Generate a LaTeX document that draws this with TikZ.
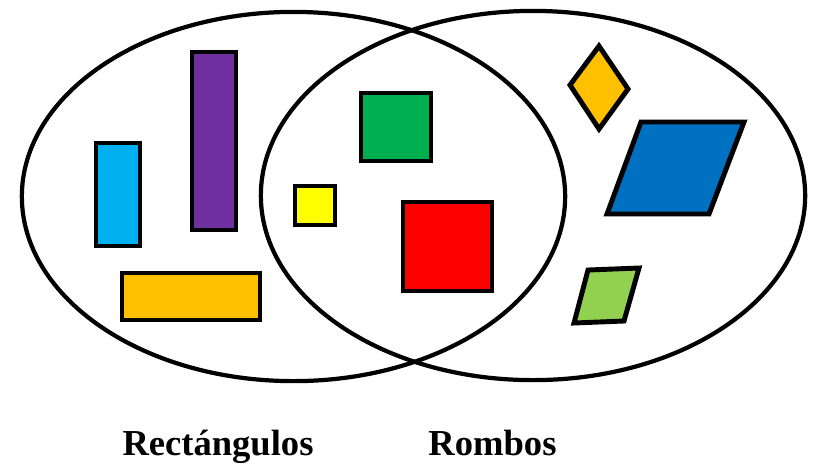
\documentclass[tikz,border=0pt]{standalone}
\usepackage{fontspec}
\setmainfont{Liberation Serif}
\usepackage{xcolor}
\usepackage{tikz}
\usetikzlibrary{positioning}

\definecolor{cyanfill}{HTML}{00B0F0}
\definecolor{purplefill}{HTML}{7030A0}
\definecolor{amberfill}{HTML}{FFC000}
\definecolor{yellowfill}{HTML}{FFFF00}
\definecolor{greenfill}{HTML}{00B050}
\definecolor{redfill}{HTML}{FF0000}
\definecolor{bluefill}{HTML}{0070C0}
\definecolor{limefill}{HTML}{92D050}

\begin{document}
\begin{tikzpicture}[
    x=0.01cm, y=-0.01cm,
    ring/.style={draw=black, line width=1.2pt},
    shapebox/.style={draw=black, line width=1.4pt, line join=miter},
    setlabel/.style={anchor=base, inner sep=0pt, font=\fontsize{10.4}{12}\selectfont\bfseries}
]
    \useasboundingbox (0,0) rectangle (819,463);

    % Sets
    \draw[ring] (293.5,196.5) ellipse [x radius=2.715cm, y radius=1.845cm];
    \draw[ring] (533,195.5) ellipse [x radius=2.72cm, y radius=1.845cm];

    % Rectangles only
    \draw[shapebox, fill=cyanfill] (96,143) rectangle (140,246);
    \draw[shapebox, fill=purplefill] (192,52) rectangle (236,230);
    \draw[shapebox, fill=amberfill] (122,273) rectangle (260,320);

    % Squares (both sets)
    \draw[shapebox, fill=yellowfill] (295,186) rectangle (335,225);
    \draw[shapebox, fill=greenfill] (361,93) rectangle (431,161);
    \draw[shapebox, fill=redfill] (403,202) rectangle (492,291);

    % Rhombi only
    \draw[shapebox, fill=amberfill] (599,46) -- (628,89) -- (599,129) -- (570,85) -- cycle;
    \draw[shapebox, fill=bluefill] (641,122) -- (744,122) -- (709,214) -- (607,214) -- cycle;
    \draw[shapebox, fill=limefill] (588,270) -- (639,268) -- (624,321) -- (574,323) -- cycle;

    % Labels
    \node[setlabel] (rectLabel) at (218,455) {Rectángulos};
    \node[setlabel] (rombLabel) at (492.5,455) {Rombos};
\end{tikzpicture}
\end{document}
